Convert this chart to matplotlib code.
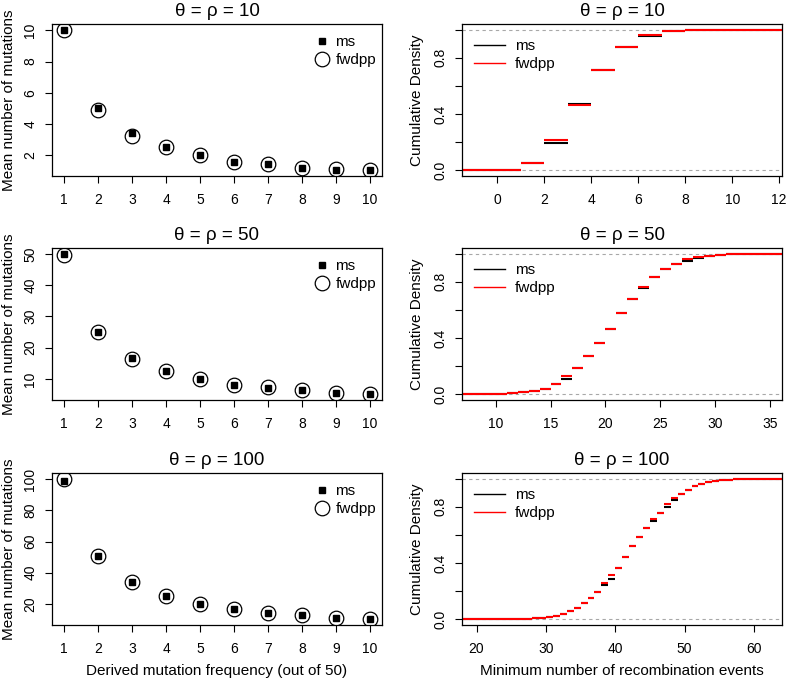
import matplotlib
matplotlib.use("Agg")
import matplotlib.pyplot as plt
from matplotlib.lines import Line2D

plt.rcParams["font.family"] = ["Liberation Sans", "DejaVu Sans"]

# --- data ---
freq = [1, 2, 3, 4, 5, 6, 7, 8, 9, 10]

ms_mean_10 = [10.0, 5.03, 3.46, 2.53, 2.0, 1.57, 1.42, 1.17, 1.08, 1.04]
fwdpp_mean_10 = [10.04, 4.88, 3.23, 2.53, 2.04, 1.55, 1.42, 1.19, 1.12, 1.08]
ms_mean_50 = [50.1, 25.0, 16.6, 12.4, 9.9, 8.1, 7.1, 6.35, 5.4, 5.05]
fwdpp_mean_50 = [49.7, 25.0, 16.5, 12.6, 10.1, 8.2, 7.3, 6.35, 5.5, 5.05]
ms_mean_100 = [98.7, 50.5, 33.8, 24.7, 20.0, 16.6, 14.1, 12.6, 11.1, 10.05]
fwdpp_mean_100 = [100.4, 50.5, 33.8, 24.7, 20.0, 16.6, 14.3, 12.6, 11.1, 10.0]

rmin_10 = list(range(0, 13))
ms_cdf_10 = [0.005, 0.05, 0.195, 0.469, 0.714, 0.874, 0.958, 0.988, 0.995, 0.996, 0.999, 0.9995, 1.0]
fwdpp_cdf_10 = [0.005, 0.052, 0.219, 0.467, 0.714, 0.877, 0.962, 0.988, 0.995, 0.996, 0.999, 0.9995, 1.0]

rmin_50 = list(range(8, 36))
ms_cdf_50 = [0.0005, 0.001, 0.003, 0.008, 0.016, 0.024, 0.04, 0.071, 0.112, 0.19,
             0.27, 0.363, 0.468, 0.577, 0.675, 0.753, 0.836, 0.888, 0.927, 0.95,
             0.972, 0.985, 0.99, 0.994, 0.996, 0.998, 0.999, 1.0]
fwdpp_cdf_50 = [0.0005, 0.001, 0.003, 0.008, 0.016, 0.026, 0.04, 0.071, 0.13, 0.19,
                0.27, 0.363, 0.468, 0.577, 0.675, 0.765, 0.836, 0.893, 0.929, 0.962,
                0.974, 0.986, 0.99, 0.994, 0.996, 0.998, 0.999, 1.0]

rmin_100 = list(range(21, 61))
ms_cdf_100 = [0.0002, 0.0004, 0.0006, 0.001, 0.0015, 0.002, 0.004, 0.007, 0.011, 0.017,
              0.026, 0.04, 0.057, 0.081, 0.114, 0.152, 0.197, 0.244, 0.288, 0.368,
              0.444, 0.518, 0.585, 0.65, 0.697, 0.756, 0.795, 0.848, 0.888, 0.921,
              0.946, 0.964, 0.976, 0.984, 0.99, 0.993, 0.995, 0.997, 0.999, 1.0]
fwdpp_cdf_100 = [0.0002, 0.0004, 0.0006, 0.001, 0.0015, 0.002, 0.004, 0.007, 0.011, 0.017,
                 0.026, 0.04, 0.057, 0.081, 0.114, 0.152, 0.197, 0.258, 0.313, 0.368,
                 0.444, 0.518, 0.585, 0.65, 0.71, 0.756, 0.818, 0.862, 0.888, 0.921,
                 0.946, 0.964, 0.976, 0.984, 0.99, 0.993, 0.995, 0.997, 0.999, 1.0]

titles = ["θ = ρ = 10", "θ = ρ = 50", "θ = ρ = 100"]


def style_axes(ax):
    for s in ax.spines.values():
        s.set_linewidth(0.9)
    ax.tick_params(direction="out", length=5, width=0.8, labelsize=10)
    ax.tick_params(axis="x", pad=7)
    ax.tick_params(axis="y", pad=5.5, labelrotation=90)
    for t in ax.get_yticklabels():
        t.set_va("center")


def mean_panel(ax, ms, fw, title, yticks, xlabel=None):
    ax.plot(freq, fw, "o", mfc="none", mec="black", ms=10.5, mew=0.9)
    ax.plot(freq, ms, "s", color="black", ms=4.8)
    lo, hi = min(ms + fw), max(ms + fw)
    pad = 0.04 * (hi - lo)
    ax.set_ylim(lo - pad, hi + pad)
    ax.set_xlim(0.64, 10.36)
    ax.set_xticks(freq)
    ax.set_yticks(yticks)
    ax.set_title(title, fontsize=13.5, pad=6)
    ax.set_ylabel("Mean number of mutations", fontsize=11)
    ax.yaxis.set_label_coords(-0.108, 0.5)
    handles = [Line2D([], [], ls="none", marker="s", color="black", ms=4.8),
               Line2D([], [], ls="none", marker="o", mfc="none", mec="black", ms=10.5, mew=0.9)]
    ax.legend(handles, ["ms", "fwdpp"], loc="upper right", bbox_to_anchor=(1.0, 0.965),
              frameon=False, fontsize=11, handletextpad=0.25, labelspacing=0.25,
              borderaxespad=0, handlelength=1.2)
    if xlabel:
        ax.set_xlabel(xlabel, fontsize=11)
        ax.xaxis.set_label_coords(0.5, -0.255)
    style_axes(ax)


def ecdf_steps(ax, xs, ys, xlim, color):
    right = xs[1:] + [xlim[1]]
    ax.hlines([0.0], xlim[0], xs[0], colors=color, lw=1.5)
    ax.hlines(ys, xs, right, colors=color, lw=1.5)


def cdf_panel(ax, xs, ms, fw, title, xlim, xticks, xlabel=None):
    ax.axhline(0, color="#a8a8a8", lw=0.8, ls=(0, (3, 3)))
    ax.axhline(1, color="#a8a8a8", lw=0.8, ls=(0, (3, 3)))
    ecdf_steps(ax, xs, ms, xlim, "black")
    ecdf_steps(ax, xs, fw, xlim, "red")
    ax.set_xlim(*xlim)
    ax.set_ylim(-0.04, 1.04)
    ax.set_xticks(xticks)
    ax.set_yticks([0, 0.2, 0.4, 0.6, 0.8, 1.0])
    ax.set_yticklabels(["0.0", "", "0.4", "", "0.8", ""])
    ax.set_title(title, fontsize=13.5, pad=6)
    ax.set_ylabel("Cumulative Density", fontsize=11)
    ax.yaxis.set_label_coords(-0.12, 0.5)
    handles = [Line2D([], [], color="black", lw=1), Line2D([], [], color="red", lw=1)]
    ax.legend(handles, ["ms", "fwdpp"], loc="upper left", bbox_to_anchor=(0.0, 0.98),
              frameon=False, fontsize=11, handlelength=2.0, handletextpad=0.65,
              labelspacing=0.25, borderaxespad=0.4)
    if xlabel:
        ax.set_xlabel(xlabel, fontsize=11)
        ax.xaxis.set_label_coords(0.5, -0.255)
    style_axes(ax)


fig = plt.figure(figsize=(7.94, 6.80), dpi=100)
W, H = 794, 680
tops = [24, 248, 473]
for i, top in enumerate(tops):
    b = (H - top - 152) / H
    axl = fig.add_axes([52 / W, b, 330 / W, 152 / H])
    axr = fig.add_axes([462 / W, b, 320 / W, 152 / H])
    if i == 0:
        mean_panel(axl, ms_mean_10, fwdpp_mean_10, titles[0], [2, 4, 6, 8, 10])
        cdf_panel(axr, rmin_10, ms_cdf_10, fwdpp_cdf_10, titles[0], (-1.5, 12.12), list(range(0, 13, 2)))
    elif i == 1:
        mean_panel(axl, ms_mean_50, fwdpp_mean_50, titles[1], [10, 20, 30, 40, 50])
        cdf_panel(axr, rmin_50, ms_cdf_50, fwdpp_cdf_50, titles[1], (6.93, 36.1), list(range(10, 36, 5)))
    else:
        mean_panel(axl, ms_mean_100, fwdpp_mean_100, titles[2], [20, 40, 60, 80, 100],
                   xlabel="Derived mutation frequency (out of 50)")
        cdf_panel(axr, rmin_100, ms_cdf_100, fwdpp_cdf_100, titles[2], (17.9, 64.05), list(range(20, 61, 10)),
                  xlabel="Minimum number of recombination events")

fig.savefig("out.png", dpi=100)
